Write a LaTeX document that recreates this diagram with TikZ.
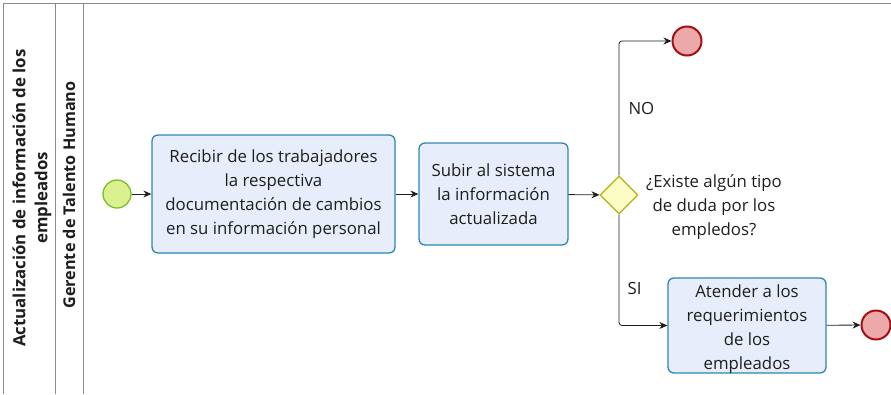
\documentclass[tikz,border=0pt]{standalone}
\usepackage{fontspec}
\setmainfont{Open Sans}
\usetikzlibrary{shapes.geometric,arrows.meta}
\definecolor{taskfill}{HTML}{E8EDFB}
\definecolor{taskline}{HTML}{2F86B5}
\definecolor{startfill}{HTML}{DBF08E}
\definecolor{startline}{HTML}{7DBE2C}
\definecolor{endfill}{HTML}{EDA8AA}
\definecolor{endline}{HTML}{A50F12}
\definecolor{gwfill}{HTML}{FCFCC6}
\definecolor{gwline}{HTML}{B5B314}
\definecolor{poolline}{HTML}{8A8A8A}
\definecolor{ink}{HTML}{1E1E1E}
\begin{document}
\begin{tikzpicture}[x=1pt,y=-1pt,
  txt/.style={font=\fontsize{16.8}{24}\selectfont, text=ink, align=center},
  task/.style={draw=taskline, fill=taskfill, line width=1.3pt, rounded corners=6pt, inner sep=0pt},
  startev/.style={circle, draw=startline, fill=startfill, line width=1.3pt, minimum size=28pt, inner sep=0pt},
  endev/.style={circle, draw=endline, fill=endfill, line width=2pt, minimum size=29pt, inner sep=0pt},
  gw/.style={diamond, draw=gwline, fill=gwfill, line width=1.3pt, minimum width=38pt, minimum height=38pt, inner sep=0pt},
  flow/.style={draw=ink, line width=0.8pt, -{Stealth[length=8pt,width=7pt]}},
  lanelbl/.style={font=\bfseries\fontsize{16.8}{22}\selectfont, text=ink, align=center, rotate=90},
  pool/.style={draw=poolline, line width=0.9pt}]
\useasboundingbox (0,0) rectangle (891,394);
% pool and lane borders
\draw[pool] (3,394) -- (3,3) -- (891,3);
\draw[pool] (55,3) -- (55,394);
\draw[pool] (83,3) -- (83,394);
\node[lanelbl] (poolname) at (32,198) {Actualización de información de los\\empleados};
\node[lanelbl, font=\bfseries\fontsize{16.2}{22}\selectfont] (lanename) at (69,195) {Gerente de Talento Humano};
% events and tasks
\node[startev] (start) at (117,194) {};
\node[task, minimum width=243pt, minimum height=118pt, txt] (t1) at (273.5,194) {Recibir de los trabajadores\\la respectiva\\documentación de cambios\\en su información personal};
\node[task, minimum width=149pt, minimum height=102pt, txt] (t2) at (493.5,194) {Subir al sistema\\la información\\actualizada};
\node[gw] (gw) at (619,195) {};
\node[txt] (q) at (714,207) {¿Existe algún tipo\\de duda por los\\empledos?};
\node[endev] (endtop) at (687,41) {};
\node[task, minimum width=158pt, minimum height=95pt] (t3) at (747,325.5) {};
\begin{scope}
\clip[rounded corners=6pt] ([xshift=1pt,yshift=1pt]t3.south west) rectangle ([xshift=-1pt,yshift=-1pt]t3.north east);
\node[txt, anchor=north] (t3text) at (747,281) {Atender a los\\requerimientos\\de los\\empleados};
\end{scope}
\node[endev] (endbot) at (876,325) {};
% connectors
\draw[flow] (start) -- (t1);
\draw[flow] (t1) -- (t2);
\draw[flow] (t2) -- (gw);
\draw[flow, rounded corners=3pt] (gw.north) |- (endtop);
\draw[flow, rounded corners=3pt] (gw.south) |- (t3);
\draw[flow] (t3) -- (endbot);
\node[txt, anchor=west] (no) at (625,108) {NO};
\node[txt, anchor=west] (si) at (624,288) {SI};
\end{tikzpicture}
\end{document}
